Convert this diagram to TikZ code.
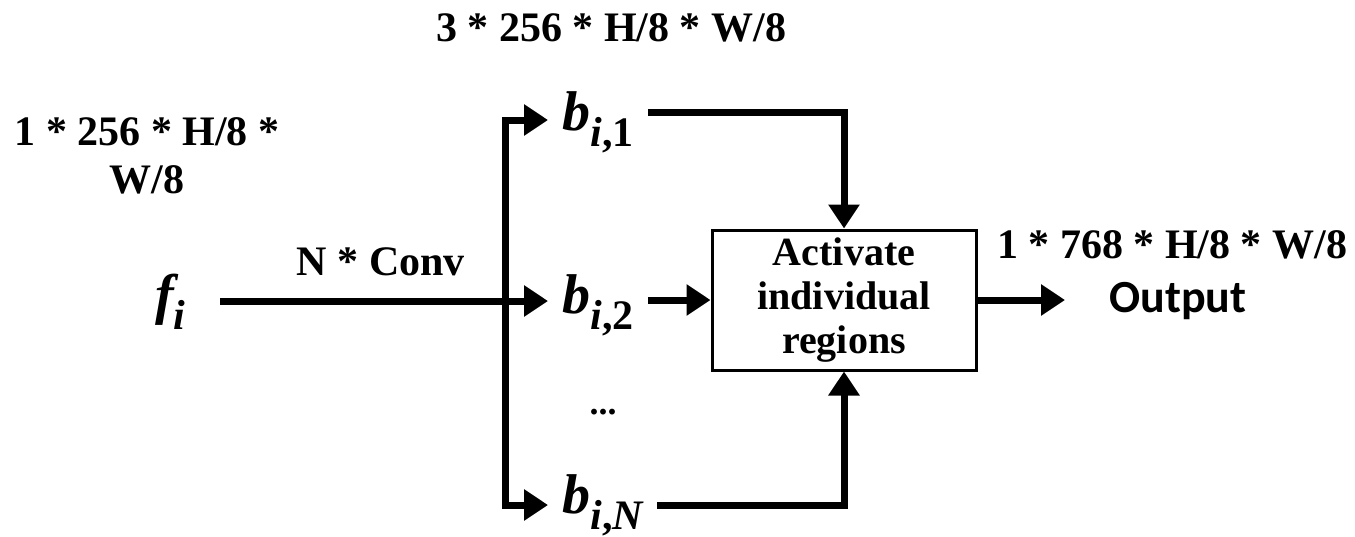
\documentclass[tikz,border=0pt]{standalone}
\usepackage{fontspec}
\setmainfont{Liberation Serif}
\newfontfamily\calfont{Carlito}
\usetikzlibrary{arrows.meta,positioning}

\newcommand{\bsub}[1]{b\raisebox{-8pt}{\fontsize{21}{21}\selectfont i\upshape,#1}}

\begin{document}
\begin{tikzpicture}[x=0.5pt,y=-0.5pt,
  every node/.style={font=\fontsize{21}{24}\selectfont\bfseries,inner sep=0pt},
  sym/.style={font=\fontsize{28}{30}\selectfont\bfseries\itshape,inner xsep=7pt},
  wire/.style={line width=3.5pt},
  flow/.style={line width=3.5pt,-{Triangle[length=12pt,width=15pt]}},
  block/.style={draw,line width=1.5pt,minimum width=132pt,minimum height=70pt,align=center,font=\fontsize{20}{22}\selectfont\bfseries}]
  \useasboundingbox (0,0) rectangle (1355,536);

  % labels
  \node (sztop) at (611,28) {3 * 256 * H/8 * W/8};
  \node[align=center] (szin) at (147,156) {1 * 256 * H/8 *\\W/8};
  \node (conv) at (381,262) {N * Conv};
  \node (szout) at (1172,245) {1 * 768 * H/8 * W/8};

  % input and branches
  \node[sym,inner xsep=17pt,anchor=base east] (fi) at (220,313) {f\raisebox{-8pt}{\fontsize{21}{21}\selectfont i}};
  \node[sym,anchor=base west] (b1) at (548,130) {\bsub{1}};
  \node[sym,anchor=base west] (b2) at (548,313) {\bsub{2}};
  \node[sym,anchor=base west] (bn) at (548,513) {\bsub{\itshape N}};
  \node[font=\fontsize{18}{18}\selectfont\bfseries] (dots) at (603,412) {...};

  \node[block] (act) at (844,300) {Activate\\individual\\regions};
  \node[font=\fontsize{23}{24}\selectfont\calfont\bfseries,inner xsep=22pt,anchor=west] (out) at (1065,301) {Output};

  \coordinate (top) at (505,120);
  \coordinate (mid) at (505,301);
  \coordinate (bot) at (505,505);
  \coordinate (j1) at (844,112);
  \coordinate (jn) at (844,505);

  % connectors
  \draw[flow] (fi.east |- mid) -- (b2.west |- mid);
  \draw[flow] (mid) -- (top) -- (b1.west |- top);
  \draw[flow] (mid) -- (bot) -- (bn.west |- bot);
  \draw[flow] (b1.east |- j1) -- (j1) -- (act.north);
  \draw[flow] (b2.east |- act.west) -- (act.west);
  \draw[flow] (bn.east |- jn) -- (jn) -- (act.south);
  \draw[flow] (act.east) -- (out.west |- act.east);
\end{tikzpicture}
\end{document}
